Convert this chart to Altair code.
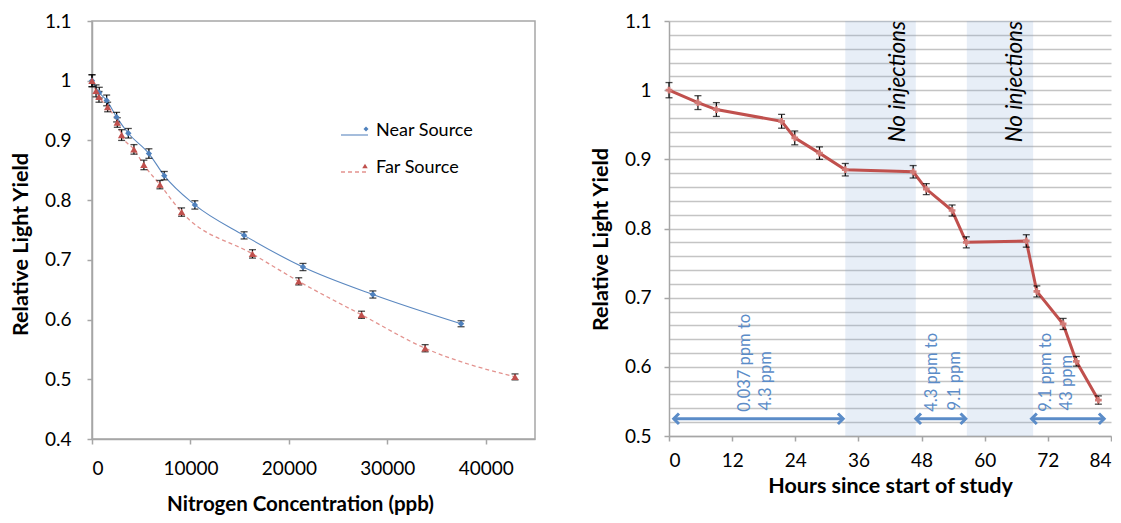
import altair as alt
import pandas as pd

# ---------------- Left panel data ----------------
near_ppb = [0, 740, 1490, 2500, 3690, 5780, 7340, 10450, 15450, 21430, 28530, 37490]
near_yield = [1.000, 0.980, 0.967, 0.939, 0.912, 0.878, 0.841, 0.792, 0.741, 0.688, 0.642, 0.593]
near_err = [0.010, 0.009, 0.009, 0.008, 0.008, 0.008, 0.007, 0.007, 0.006, 0.006, 0.006, 0.005]

far_ppb = [0, 410, 710, 1590, 2570, 3010, 4260, 5270, 6900, 9100, 16300, 21000, 27380, 33840, 42970]
far_yield = [1.000, 0.983, 0.973, 0.956, 0.930, 0.909, 0.885, 0.859, 0.826, 0.780, 0.710, 0.664, 0.608, 0.552, 0.504]
far_err = [0.010, 0.010, 0.009, 0.008, 0.008, 0.009, 0.008, 0.008, 0.007, 0.007, 0.007, 0.006, 0.006, 0.006, 0.005]

legend_labels = ["Near Source", "Far Source"]
left_x_ticks = [0, 10000, 20000, 30000, 40000]
left_y_ticks = [0.4, 0.5, 0.6, 0.7, 0.8, 0.9, 1.0, 1.1]

# ---------------- Right panel data ----------------
hours = [0, 5.5, 9.0, 21.4, 23.9, 28.6, 33.5, 46.4, 48.9, 53.8, 56.5, 67.9, 69.9, 74.9, 77.4, 81.6]
rel_yield = [1.000, 0.982, 0.972, 0.955, 0.931, 0.909, 0.885, 0.882, 0.857, 0.826, 0.780, 0.782, 0.709, 0.662, 0.608, 0.552]
rel_err = [0.011, 0.010, 0.010, 0.010, 0.010, 0.009, 0.009, 0.009, 0.008, 0.008, 0.008, 0.009, 0.008, 0.008, 0.007, 0.006]

pause_start = [33.5, 56.6]
pause_end = [46.9, 69.2]
pause_text = ["No injections", "No injections"]
pause_text_x = [43.5, 65.7]

range_start = [0.9, 46.9, 68.9]
range_end = [33.1, 56.4, 82.7]
range_line1 = ["0.037 ppm to", "4.3 ppm to", "9.1 ppm  to"]
range_line2 = ["4.3 ppm", "9.1 ppm", "43 ppm"]
range_line1_x = [14.4, 50.0, 71.6]
range_line2_x = [18.4, 54.3, 75.6]

right_x_ticks = [0, 12, 24, 36, 48, 60, 72, 84]
right_grid = [round(0.5 + 0.02 * i, 2) for i in range(31)]

FONT = "Lato"
GRAY = "#a6a6a6"
BLUE = "#4f81bd"
RED = "#c0504d"
ANNOT = "#5b8cc8"

W_L, H_L = 443, 418
W_R, H_R = 442, 415

# ---------------- Left panel ----------------
near_df = pd.DataFrame({"x": near_ppb, "y": near_yield, "err": near_err})
far_df = pd.DataFrame({"x": far_ppb, "y": far_yield, "err": far_err})

x_axis_L = alt.Axis(values=left_x_ticks, format="d", title="Nitrogen Concentration (ppb)",
                    grid=False, labelPadding=15, titlePadding=16, tickSize=5,
                    titleFontSize=20.5, titleX=208)
y_axis_L = alt.Axis(values=left_y_ticks, format="~g", title="Relative Light Yield",
                    grid=False, labelPadding=16, titlePadding=12, tickSize=5,
                    titleFontSize=21.5, titleY=223)
xs_L = alt.Scale(domain=[0, 45000], nice=False)
ys_L = alt.Scale(domain=[0.4, 1.1], nice=False, zero=False)


def xl(f):
    return alt.X(f, type="quantitative", scale=xs_L, axis=x_axis_L)


def yl(f):
    return alt.Y(f, type="quantitative", scale=ys_L, axis=y_axis_L)


def err_layers(base, xenc, yenc, cap):
    b = base.transform_calculate(lo="datum.y - datum.err", hi="datum.y + datum.err")
    rule = b.mark_rule(color="black", strokeWidth=1.2).encode(x=xenc("x"), y=yenc("lo"), y2="hi:Q")
    t1 = b.mark_tick(color="black", orient="horizontal", size=cap, thickness=1.3).encode(x=xenc("x"), y=yenc("lo"))
    t2 = b.mark_tick(color="black", orient="horizontal", size=cap, thickness=1.3).encode(x=xenc("x"), y=yenc("hi"))
    return [rule, t1, t2]


near_base = alt.Chart(near_df)
far_base = alt.Chart(far_df)

near_line = near_base.mark_line(color="#5b88c0", strokeWidth=1.1, interpolate="monotone").encode(x=xl("x"), y=yl("y"))
far_line = far_base.mark_line(color="#e3938f", strokeWidth=1.3, strokeDash=[4, 3], interpolate="monotone").encode(x=xl("x"), y=yl("y"))
near_pts = near_base.mark_point(shape="diamond", filled=True, size=40, color=BLUE, opacity=1).encode(x=xl("x"), y=yl("y"))
far_pts = far_base.mark_point(shape="triangle-up", filled=True, size=55, color=RED, opacity=1).encode(x=xl("x"), y=yl("y"))

one = alt.Data(values=[{}])
leg = [
    alt.Chart(one).mark_rule(color="#5b88c0", strokeWidth=1.1).encode(x=alt.value(249), x2=alt.value(276), y=alt.value(114)),
    alt.Chart(one).mark_point(shape="diamond", filled=True, size=25, color=BLUE, opacity=1).encode(x=alt.value(274), y=alt.value(108)),
    alt.Chart(one).mark_text(align="left", baseline="middle", fontSize=18, font=FONT, color="black").encode(
        x=alt.value(284), y=alt.value(109.5), text=alt.value(legend_labels[0])),
    alt.Chart(one).mark_rule(color="#e3938f", strokeWidth=1.3, strokeDash=[4, 3]).encode(x=alt.value(249), x2=alt.value(276), y=alt.value(151)),
    alt.Chart(one).mark_point(shape="triangle-up", filled=True, size=30, color=RED, opacity=1).encode(x=alt.value(273), y=alt.value(145)),
    alt.Chart(one).mark_text(align="left", baseline="middle", fontSize=18, font=FONT, color="black").encode(
        x=alt.value(284), y=alt.value(147), text=alt.value(legend_labels[1])),
]

left = alt.layer(
    near_line, far_line,
    *err_layers(near_base, xl, yl, 7), *err_layers(far_base, xl, yl, 7),
    near_pts, far_pts, *leg
).properties(width=W_L, height=H_L, view=alt.ViewBackground(stroke=GRAY, strokeWidth=1.5))

# ---------------- Right panel ----------------
rdf = pd.DataFrame({"x": hours, "y": rel_yield, "err": rel_err})
pause_df = pd.DataFrame({"start": pause_start, "end": pause_end, "tx": pause_text_x, "text": pause_text})
range_df = pd.DataFrame({"a0": range_start, "a1": range_end, "l1": range_line1, "l2": range_line2,
                         "x1": range_line1_x, "x2": range_line2_x})

tick_test = "abs(datum.value * 10 - round(datum.value * 10)) < 0.001"
x_axis_R = alt.Axis(values=right_x_ticks, title="Hours since start of study", grid=False,
                    labelPadding=10.5, titlePadding=5, tickSize=5, titleFontSize=21.5)
y_axis_R = alt.Axis(values=right_grid, title="Relative Light Yield", grid=True,
                    gridColor="#c4c4c4", gridWidth=1.3,
                    labelExpr=tick_test + " ? format(datum.value, '~g') : ''",
                    labelOverlap=False, labelPadding=13, titlePadding=12, tickSize=5,
                    titleFontSize=21.5, titleY=218,
                    tickOpacity={"condition": {"test": tick_test, "value": 1}, "value": 0})
xs_R = alt.Scale(domain=[0, 84], nice=False)
ys_R = alt.Scale(domain=[0.5, 1.1], nice=False, zero=False)


def xr(f):
    return alt.X(f, type="quantitative", scale=xs_R, axis=x_axis_R)


def yr(f):
    return alt.Y(f, type="quantitative", scale=ys_R, axis=y_axis_R)


def yr_datum(v):
    return alt.Y(datum=v, type="quantitative", scale=ys_R, axis=y_axis_R)


shade = alt.Chart(pause_df).mark_rect(color="#7fa3d4", opacity=0.19).encode(x=xr("start"), x2="end:Q")
no_inj = alt.Chart(pause_df).mark_text(angle=270, align="right", baseline="middle", fontSize=22.5,
                                        fontStyle="italic", font=FONT, color="black").encode(
    x=xr("tx"), y=yr_datum(1.1), text="text:N")

rbase = alt.Chart(rdf)
rline = rbase.mark_line(color=RED, strokeWidth=3).encode(x=xr("x"), y=yr("y"))
rpts = rbase.mark_point(shape="cross", filled=True, size=45, color="#d27b77", opacity=1).encode(x=xr("x"), y=yr("y"))

ARROW_Y = 0.525
arrow_line = alt.Chart(range_df).mark_rule(color=ANNOT, strokeWidth=3).encode(
    x=xr("a0"), x2="a1:Q", y=yr_datum(ARROW_Y))
head_l = alt.Chart(range_df).mark_point(shape="M 1 -1 L 0 0 L 1 1", filled=False, size=110, color=ANNOT,
                                          strokeWidth=3, opacity=1).encode(x=xr("a0"), y=yr_datum(ARROW_Y))
head_r = alt.Chart(range_df).mark_point(shape="M -1 -1 L 0 0 L -1 1", filled=False, size=110, color=ANNOT,
                                          strokeWidth=3, opacity=1).encode(x=xr("a1"), y=yr_datum(ARROW_Y))
lab1 = alt.Chart(range_df).mark_text(angle=270, align="left", baseline="middle", fontSize=16.5, font=FONT,
                                      color=ANNOT).encode(x=xr("x1"), y=yr_datum(0.535), text="l1:N")
lab2 = alt.Chart(range_df).mark_text(angle=270, align="left", baseline="middle", fontSize=16.5, font=FONT,
                                      color=ANNOT).encode(x=xr("x2"), y=yr_datum(0.537), text="l2:N")

right = alt.layer(
    shade, no_inj, arrow_line, head_l, head_r, lab1, lab2,
    rline, *err_layers(rbase, xr, yr, 7), rpts
).properties(width=W_R, height=H_R, view=alt.ViewBackground(stroke=None))

chart = alt.hconcat(left, right, spacing=54).properties(
    padding={"left": 1, "top": 3, "right": 0, "bottom": 0}
).configure_axis(
    labelFont=FONT, titleFont=FONT, labelFontSize=19, titleFontWeight="bold",
    labelColor="black", titleColor="black", domainColor=GRAY, tickColor=GRAY,
    domainWidth=1.5, tickWidth=1.5
).configure_view(stroke=None)

chart.save("out.html", embed_options={"renderer": "svg", "actions": False})
